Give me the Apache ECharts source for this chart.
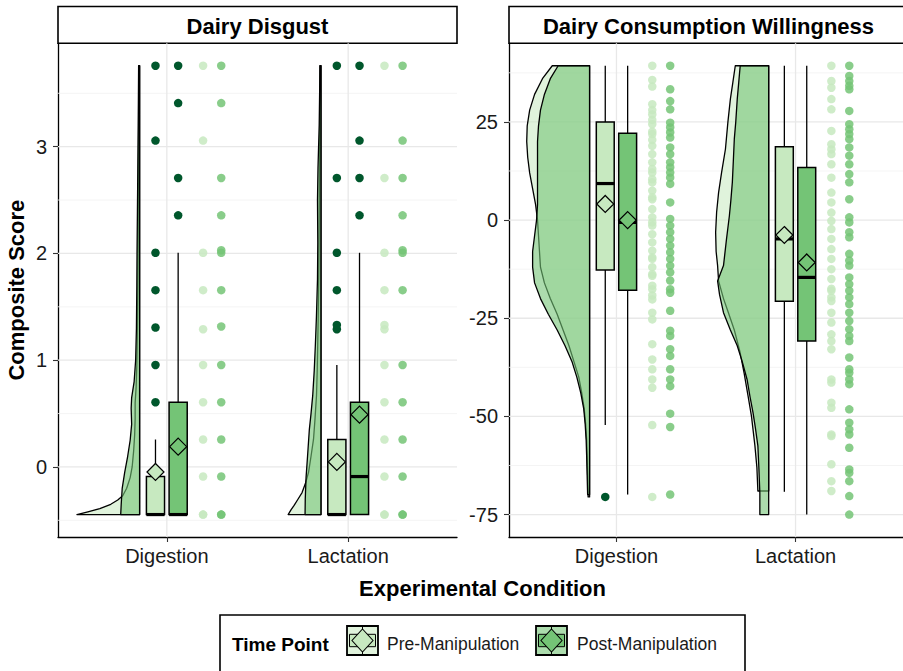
<!DOCTYPE html>
<html><head><meta charset="utf-8">
<script src="https://cdn.jsdelivr.net/npm/echarts@6/dist/echarts.min.js"></script>
<style>html,body{margin:0;padding:0;background:#fff}#c{width:903px;height:671px}</style>
</head><body><div id="c"></div>
<script>
// ---------------- data ----------------
const conditions = ['Digestion', 'Lactation'];
const timePoints = ['Pre-Manipulation', 'Post-Manipulation'];
const panelTitles = ['Dairy Disgust', 'Dairy Consumption Willingness'];
const yTitle = 'Composite Score';
const xTitle = 'Experimental Condition';
const legendTitle = 'Time Point';

const disgustTicks = [0, 1, 2, 3];
const disgustMinorTicks = [-0.5, 0.5, 1.5, 2.5, 3.5];
const willingTicks = [-75, -50, -25, 0, 25];
const willingMinorTicks = [-62.5, -37.5, -12.5, 12.5, 37.5];

// box statistics: [lower whisker, Q1, median, Q3, upper whisker]
const disgustBoxDigPre  = [-0.446, -0.446, -0.446, -0.09, 0.257];
const disgustBoxDigPost = [-0.446, -0.446, -0.446, 0.606, 2.006];
const disgustBoxLacPre  = [-0.446, -0.446, -0.446, 0.257, 0.955];
const disgustBoxLacPost = [-0.446, -0.446, -0.09, 0.606, 2.006];
const disgustMeanDig = [-0.047, 0.19];   // [pre, post]
const disgustMeanLac = [0.047, 0.49];
const disgustOutDigPre  = [0.606, 0.955, 1.306, 1.656, 2.006, 3.057, 3.758];
const disgustOutDigPost = [2.357, 2.707, 3.408, 3.758];
const disgustOutLacPre  = [1.29, 1.33, 1.656, 2.006, 2.707, 3.758];
const disgustOutLacPost = [2.357, 2.707, 3.057, 3.758];
const disgustPtsDigPre  = [-0.446, -0.446, -0.09, 0.257, 0.606, 0.955, 1.29, 1.656, 2.006, 3.057, 3.758];
const disgustPtsDigPost = [-0.446, -0.446, -0.09, 0.257, 0.606, 0.955, 1.316, 1.656, 2.006, 2.03, 2.357, 2.707, 3.408, 3.758];
const disgustPtsLacPre  = [-0.446, -0.446, -0.09, 0.257, 0.606, 0.955, 1.29, 1.33, 1.656, 2.006, 2.707, 3.758];
const disgustPtsLacPost = [-0.446, -0.446, -0.09, 0.257, 0.606, 0.955, 1.656, 2.006, 2.03, 2.357, 2.707, 3.057, 3.758];
// half-violin density outlines: [score, scaled density]
const disgustDensDigPre = [[-0.446,63],[-0.42,52],[-0.39,40],[-0.35,29],[-0.31,22],[-0.27,17],[-0.2,13],[-0.1,9.5],[0.0,7.5],[0.15,6],[0.3,5],[0.45,4.5],[0.6,4.5],[0.75,3.5],[0.95,2.8],[1.3,2.2],[1.7,1.8],[2.2,1.5],[2.8,1.2],[3.3,1.0],[3.758,0.8]];
const disgustDensDigPost = [[-0.446,19],[-0.35,18.5],[-0.2,17.5],[-0.05,15],[0.1,12],[0.25,9.5],[0.4,8],[0.55,8.5],[0.65,8],[0.8,5.5],[1.0,4],[1.3,3.2],[1.7,2.8],[2.0,2.6],[2.4,2.2],[2.8,1.8],[3.2,1.4],[3.758,1.0]];
const disgustDensLacPre = [[-0.446,33],[-0.40,30],[-0.36,27],[-0.30,23],[-0.24,19],[-0.15,15.5],[-0.05,12.5],[0.1,10],[0.26,7.5],[0.45,6],[0.67,4.5],[0.9,3.8],[1.13,3.3],[1.4,2.8],[1.8,2.2],[2.3,1.8],[2.8,1.5],[3.3,1.2],[3.758,1.0]];
const disgustDensLacPost = [[-0.446,16],[-0.3,15.8],[-0.1,15],[0.1,13.5],[0.35,11.7],[0.5,10],[0.67,8.3],[0.9,6.8],[1.13,5.7],[1.4,4.6],[1.76,3.5],[2.1,3.2],[2.5,3.5],[2.8,3.0],[3.2,1.8],[3.758,1.0]];

const willingBoxDigPre  = [-52.2, -12.7, 9.3, 25.0, 39.3];
const willingBoxDigPost = [-69.9, -17.9, -0.6, 22.1, 39.3];
const willingBoxLacPre  = [-69.2, -20.7, -4.8, 18.7, 39.3];
const willingBoxLacPost = [-75.0, -30.8, -14.6, 13.4, 39.3];
const willingMeanDig = [4.1, 0.0];
const willingMeanLac = [-3.8, -10.8];
const willingOutDigPre  = [-70.5];
const willingOutDigPost = [];
const willingOutLacPre  = [];
const willingOutLacPost = [];
const willingPtsDigPre  = [39.3, 35.7, 34.0, 29.5, 28.0, 26.9, 25.5, 24.4, 22.5, 21.9, 20.4, 18.9, 16.8, 14.7, 13.0, 12.1, 10.4, 9.6, 7.5, 5.8, 5.3, 2.8, 0.7, -0.6, -1.4, -3.6, -5.7, -7.8, -9.5, -9.9, -12.0, -13.8, -14.2, -16.7, -17.6, -19.2, -20.2, -23.6, -25.3, -31.6, -35.5, -38.0, -40.6, -42.7, -52.2, -70.5];
const willingPtsDigPost = [39.3, 33.3, 30.3, 28.2, 24.8, 23.6, 22.3, 21.0, 18.5, 16.8, 14.7, 13.4, 12.1, 10.8, 9.2, 4.5, 0.3, -1.4, -3.1, -4.8, -6.5, -8.2, -9.9, -11.6, -13.3, -15.4, -17.6, -18.5, -23.1, -28.2, -29.5, -32.9, -34.6, -38.0, -40.6, -42.3, -49.3, -52.7, -69.9];
const willingPtsLacPre  = [39.3, 35.4, 33.7, 30.8, 28.2, 22.7, 19.3, 18.0, 16.8, 14.2, 10.8, 7.0, 4.5, 1.9, -0.2, -2.3, -4.8, -7.4, -9.9, -12.5, -15.0, -17.5, -18.0, -19.7, -20.6, -23.6, -26.1, -29.1, -30.8, -32.9, -40.6, -41.4, -46.5, -47.8, -54.6, -55.0, -62.2, -66.5, -69.0];
const willingPtsLacPost = [39.3, 36.7, 35.4, 34.2, 33.3, 27.8, 24.4, 23.1, 21.9, 20.6, 18.5, 16.4, 14.2, 11.7, 9.6, 5.3, 0.7, -0.6, -3.1, -4.4, -8.6, -10.3, -11.6, -14.6, -16.3, -18.0, -19.7, -21.4, -23.6, -25.7, -27.8, -29.5, -30.8, -35.0, -38.0, -38.9, -40.6, -41.8, -48.2, -51.6, -53.3, -54.6, -58.0, -63.5, -64.4, -66.5, -70.3, -75.0];
const willingDensDigPre = [[39.3,38],[36,48],[32,56],[28,61],[24,63.5],[20,64],[16,63],[12,61],[8,58],[4,55],[0,53],[-4,52],[-8,51],[-12,50],[-16,46],[-20,40],[-24,33],[-28,27],[-32,21],[-36,16],[-40,11],[-44,8],[-48,5.5],[-52,4],[-56,3],[-60,2.5],[-65,2],[-70.5,1.5]];
const willingDensDigPost = [[39.3,32],[36,40],[32,46],[28,50],[24,52],[20,53],[16,53],[12,53],[8,53],[4,53],[0,54],[-4,56],[-8,58],[-12,58],[-16,56],[-20,50],[-24,42],[-28,33],[-32,25],[-36,18],[-40,13],[-44,9],[-48,6],[-52,4.5],[-56,3.5],[-60,3],[-65,2.5],[-69.9,2]];
const willingDensLacPre = [[39.3,34],[35,36.5],[30.8,39],[25,41.5],[18.1,44],[12,48],[7,51],[2,53],[-3.1,54],[-8,53.5],[-11.6,52],[-15.5,51],[-20,46],[-23.6,41],[-28,35],[-33.8,29],[-39,25],[-44.8,21],[-50,17.5],[-57.5,14],[-63,12],[-69,11]];
const willingDensLacPost = [[39.3,29],[35,30.5],[30.8,32],[25,33.5],[20.6,35],[15,36],[9.6,37],[5,38.5],[1.1,40],[-5,43],[-11.6,46],[-15.5,52],[-19,50],[-23.6,46],[-28,39],[-32,32],[-36,27],[-40.6,22],[-45,19],[-49,16],[-53,13.5],[-57.5,11],[-63,10],[-69.5,9],[-75,9]];

// ---------------- assembly ----------------
const panels = [
  { ticks: disgustTicks, minor: disgustMinorTicks,
    boxes: [[disgustBoxDigPre, disgustBoxDigPost], [disgustBoxLacPre, disgustBoxLacPost]],
    means: [disgustMeanDig, disgustMeanLac],
    outliers: [[disgustOutDigPre, disgustOutDigPost], [disgustOutLacPre, disgustOutLacPost]],
    points: [[disgustPtsDigPre, disgustPtsDigPost], [disgustPtsLacPre, disgustPtsLacPost]],
    dens: [[disgustDensDigPre, disgustDensDigPost], [disgustDensLacPre, disgustDensLacPost]] },
  { ticks: willingTicks, minor: willingMinorTicks,
    boxes: [[willingBoxDigPre, willingBoxDigPost], [willingBoxLacPre, willingBoxLacPost]],
    means: [willingMeanDig, willingMeanLac],
    outliers: [[willingOutDigPre, willingOutDigPost], [willingOutLacPre, willingOutLacPost]],
    points: [[willingPtsDigPre, willingPtsDigPost], [willingPtsLacPre, willingPtsLacPost]],
    dens: [[willingDensDigPre, willingDensDigPost], [willingDensLacPre, willingDensLacPost]] }
];

// styling / layout constants
const FONT = '"Liberation Sans", Arial, Helvetica, sans-serif';
const BOX_FILL = ['#c7e9c0', '#74c476'];
const DENS_FILL = ['rgba(199,233,192,0.55)', 'rgba(116,196,118,0.6)'];
const PT_COLOR = ['#c7e9c0', '#74c476'];
const PT_OPACITY = 0.85;
const OUT_COLOR = '#00572c';
const BOX_OFF = [-0.0625, 0.0625];
const BOX_HALF = 0.05;
const PT_OFF = [0.2, 0.3];
const DENS_EDGE = -0.15;
const DENS_SCALE = 1 / 182.3;
const X_MIN = 1 - 0.6, X_MAX = conditions.length + 0.6;
const GRID_LEFT = [58, 509], GRID_TOP = 43.3, GRID_W = 399, GRID_H = 493.7;

function yRange(pn) {
  let lo = Infinity, hi = -Infinity;
  const add = v => { if (v < lo) lo = v; if (v > hi) hi = v; };
  pn.points.forEach(c => c.forEach(a => a.forEach(add)));
  pn.outliers.forEach(c => c.forEach(a => a.forEach(add)));
  pn.boxes.forEach(c => c.forEach(a => a.forEach(add)));
  const pad = (hi - lo) * 0.05;
  return [lo - pad, hi + pad];
}

const grids = [], xAxes = [], yAxes = [], series = [];
panels.forEach((pn, p) => {
  const [ymin, ymax] = yRange(pn);
  grids.push({ left: GRID_LEFT[p], top: GRID_TOP, width: GRID_W, height: GRID_H, containLabel: false });
  xAxes.push({
    type: 'value', gridIndex: p, min: X_MIN, max: X_MAX,
    axisLine: { show: true, onZero: false, lineStyle: { color: '#000', width: 1.3 } },
    axisTick: { show: true, customValues: conditions.map((c, i) => i + 1), length: 5, lineStyle: { color: '#333', width: 1.1 } },
    axisLabel: { customValues: conditions.map((c, i) => i + 1), formatter: v => conditions[Math.round(v) - 1] || '',
      fontSize: 20, color: '#1a1a1a', fontFamily: FONT, margin: 9 },
    splitLine: { show: false }
  });
  yAxes.push({
    type: 'value', gridIndex: p, min: ymin, max: ymax,
    name: p === 0 ? yTitle : '', nameLocation: 'middle', nameGap: 31,
    nameTextStyle: { fontSize: 22, fontWeight: 'bold', color: '#000', fontFamily: FONT },
    axisLine: { show: true, onZero: false, lineStyle: { color: '#000', width: 1.3 } },
    axisTick: { show: true, customValues: pn.ticks, length: 5, lineStyle: { color: '#333', width: 1.1 } },
    axisLabel: { customValues: pn.ticks, fontSize: 20, color: '#1a1a1a', fontFamily: FONT, margin: 11 },
    splitLine: { show: false }
  });
  const ax = { xAxisIndex: p, yAxisIndex: p };
  const mid = (ymin + ymax) / 2;
  // minor grid
  series.push(Object.assign({
    type: 'custom', silent: true, z: 1, data: pn.minor.map(v => [1.5, v]),
    renderItem: (params, api) => {
      const cs = params.coordSys; const y = api.coord([api.value(0), api.value(1)])[1];
      return { type: 'line', shape: { x1: cs.x, y1: y, x2: cs.x + cs.width, y2: y }, style: { stroke: '#f1f1f1', lineWidth: 0.8 } };
    }
  }, ax));
  // major grid
  series.push(Object.assign({
    type: 'custom', silent: true, z: 1, data: pn.ticks.map(v => [1.5, v]),
    renderItem: (params, api) => {
      const cs = params.coordSys; const y = api.coord([api.value(0), api.value(1)])[1];
      return { type: 'line', shape: { x1: cs.x, y1: y, x2: cs.x + cs.width, y2: y }, style: { stroke: '#e8e8e8', lineWidth: 1.3 } };
    }
  }, ax));
  series.push(Object.assign({
    type: 'custom', silent: true, z: 1, data: conditions.map((c, i) => [i + 1, mid]),
    renderItem: (params, api) => {
      const cs = params.coordSys; const x = api.coord([api.value(0), api.value(1)])[0];
      return { type: 'line', shape: { x1: x, y1: cs.y, x2: x, y2: cs.y + cs.height }, style: { stroke: '#e8e8e8', lineWidth: 1.3 } };
    }
  }, ax));
  // half violins
  const densData = [];
  conditions.forEach((c, ci) => timePoints.forEach((t, ti) => densData.push([ci + 1, pn.dens[ci][ti][0][0], ti])));
  series.push(Object.assign({
    type: 'custom', silent: true, z: 3, data: densData,
    renderItem: (params, api) => {
      const ci = api.value(0), ti = api.value(2);
      const d = pn.dens[ci - 1][ti];
      const xe = ci + DENS_EDGE;
      const pts = [api.coord([xe, d[0][0]])];
      d.forEach(([v, w]) => pts.push(api.coord([xe - w * DENS_SCALE, v])));
      pts.push(api.coord([xe, d[d.length - 1][0]]));
      return { type: 'polygon', shape: { points: pts }, style: { fill: DENS_FILL[ti], stroke: '#000', lineWidth: 1.3, lineJoin: 'round' } };
    }
  }, ax));
  // boxes
  const boxData = [];
  conditions.forEach((c, ci) => timePoints.forEach((t, ti) => boxData.push([ci + 1 + BOX_OFF[ti]].concat(pn.boxes[ci][ti], [ti]))));
  series.push(Object.assign({
    type: 'custom', silent: true, z: 4, data: boxData,
    renderItem: (params, api) => {
      const x = api.value(0), lo = api.value(1), q1 = api.value(2), med = api.value(3), q3 = api.value(4), hi = api.value(5), ti = api.value(6);
      const tl = api.coord([x - BOX_HALF, q3]), br = api.coord([x + BOX_HALF, q1]);
      const cTop = api.coord([x, hi]), cQ3 = api.coord([x, q3]), cQ1 = api.coord([x, q1]), cLo = api.coord([x, lo]);
      const mL = api.coord([x - BOX_HALF, med]), mR = api.coord([x + BOX_HALF, med]);
      return { type: 'group', children: [
        { type: 'line', shape: { x1: cQ3[0], y1: cQ3[1], x2: cTop[0], y2: cTop[1] }, style: { stroke: '#000', lineWidth: 1.3 } },
        { type: 'line', shape: { x1: cQ1[0], y1: cQ1[1], x2: cLo[0], y2: cLo[1] }, style: { stroke: '#000', lineWidth: 1.3 } },
        { type: 'rect', shape: { x: tl[0], y: tl[1], width: br[0] - tl[0], height: Math.max(br[1] - tl[1], 0.5) }, style: { fill: BOX_FILL[ti], stroke: '#000', lineWidth: 1.5 } },
        { type: 'line', shape: { x1: mL[0], y1: mL[1], x2: mR[0], y2: mR[1] }, style: { stroke: '#000', lineWidth: 3.2 } }
      ] };
    }
  }, ax));
  // outliers
  const outData = [];
  conditions.forEach((c, ci) => timePoints.forEach((t, ti) => pn.outliers[ci][ti].forEach(v => outData.push([ci + 1 + BOX_OFF[ti], v]))));
  series.push(Object.assign({ type: 'scatter', silent: true, z: 5, symbolSize: 8.5, data: outData,
    itemStyle: { color: OUT_COLOR, opacity: 1 } }, ax));
  // raw points
  timePoints.forEach((t, ti) => {
    const d = [];
    conditions.forEach((c, ci) => pn.points[ci][ti].forEach(v => d.push([ci + 1 + PT_OFF[ti], v])));
    series.push(Object.assign({ type: 'scatter', name: t, silent: true, z: 5, symbolSize: 8.5, data: d,
      itemStyle: { color: PT_COLOR[ti], opacity: PT_OPACITY } }, ax));
  });
  // means
  timePoints.forEach((t, ti) => {
    const d = conditions.map((c, ci) => [ci + 1 + BOX_OFF[ti], pn.means[ci][ti]]);
    series.push(Object.assign({ type: 'scatter', silent: true, z: 6, symbol: 'diamond', symbolSize: 17, data: d,
      itemStyle: { color: BOX_FILL[ti], borderColor: '#000', borderWidth: 1.2, opacity: 1 } }, ax));
  });
});

// strips, titles and legend
function keyGlyph(x0, ti) {
  const y0 = 626, w = 31, h = 29, cx = x0 + w / 2, cy = y0 + h / 2;
  return [
    { type: 'rect', shape: { x: x0, y: y0, width: w, height: h }, style: { fill: DENS_FILL[ti], stroke: '#000', lineWidth: 1.8 } },
    { type: 'line', shape: { x1: cx, y1: y0, x2: cx, y2: y0 + h }, style: { stroke: '#000', lineWidth: 1 } },
    { type: 'rect', shape: { x: x0 + 2.5, y: cy - 6.2, width: w - 5, height: 12.4 }, style: { fill: BOX_FILL[ti], stroke: '#000', lineWidth: 1 } },
    { type: 'polygon', shape: { points: [[cx, cy - 11.5], [cx + 10.5, cy], [cx, cy + 11.5], [cx - 10.5, cy]] }, style: { fill: BOX_FILL[ti], stroke: '#000', lineWidth: 1.1 } }
  ];
}
const graphic = [];
panelTitles.forEach((t, p) => {
  graphic.push({ type: 'rect', shape: { x: GRID_LEFT[p], y: 6.5, width: GRID_W, height: 36.8 }, style: { fill: '#fff', stroke: '#000', lineWidth: 1.6 } });
  graphic.push({ type: 'text', x: GRID_LEFT[p] + GRID_W / 2, y: 26, style: { text: t, fill: '#000', font: 'bold 22px ' + FONT, align: 'center', verticalAlign: 'middle' } });
});
graphic.push({ type: 'text', x: 482.5, y: 588, style: { text: xTitle, fill: '#000', font: 'bold 22px ' + FONT, align: 'center', verticalAlign: 'middle' } });
graphic.push({ type: 'rect', shape: { x: 220, y: 615, width: 525, height: 70 }, style: { fill: '#fff', stroke: '#000', lineWidth: 1.6 } });
graphic.push({ type: 'text', x: 232, y: 644, style: { text: legendTitle, fill: '#000', font: 'bold 19px ' + FONT, verticalAlign: 'middle' } });
keyGlyph(347, 0).forEach(g => graphic.push(g));
keyGlyph(536, 1).forEach(g => graphic.push(g));
graphic.push({ type: 'text', x: 387, y: 644, style: { text: timePoints[0], fill: '#1a1a1a', font: '17.5px ' + FONT, verticalAlign: 'middle' } });
graphic.push({ type: 'text', x: 577, y: 644, style: { text: timePoints[1], fill: '#1a1a1a', font: '17.5px ' + FONT, verticalAlign: 'middle' } });

const chart = echarts.init(document.getElementById('c'), null, { renderer: 'svg' });
chart.setOption({
  backgroundColor: '#fff', animation: false,
  textStyle: { fontFamily: FONT },
  grid: grids, xAxis: xAxes, yAxis: yAxes, series: series, graphic: graphic
});
</script></body></html>
